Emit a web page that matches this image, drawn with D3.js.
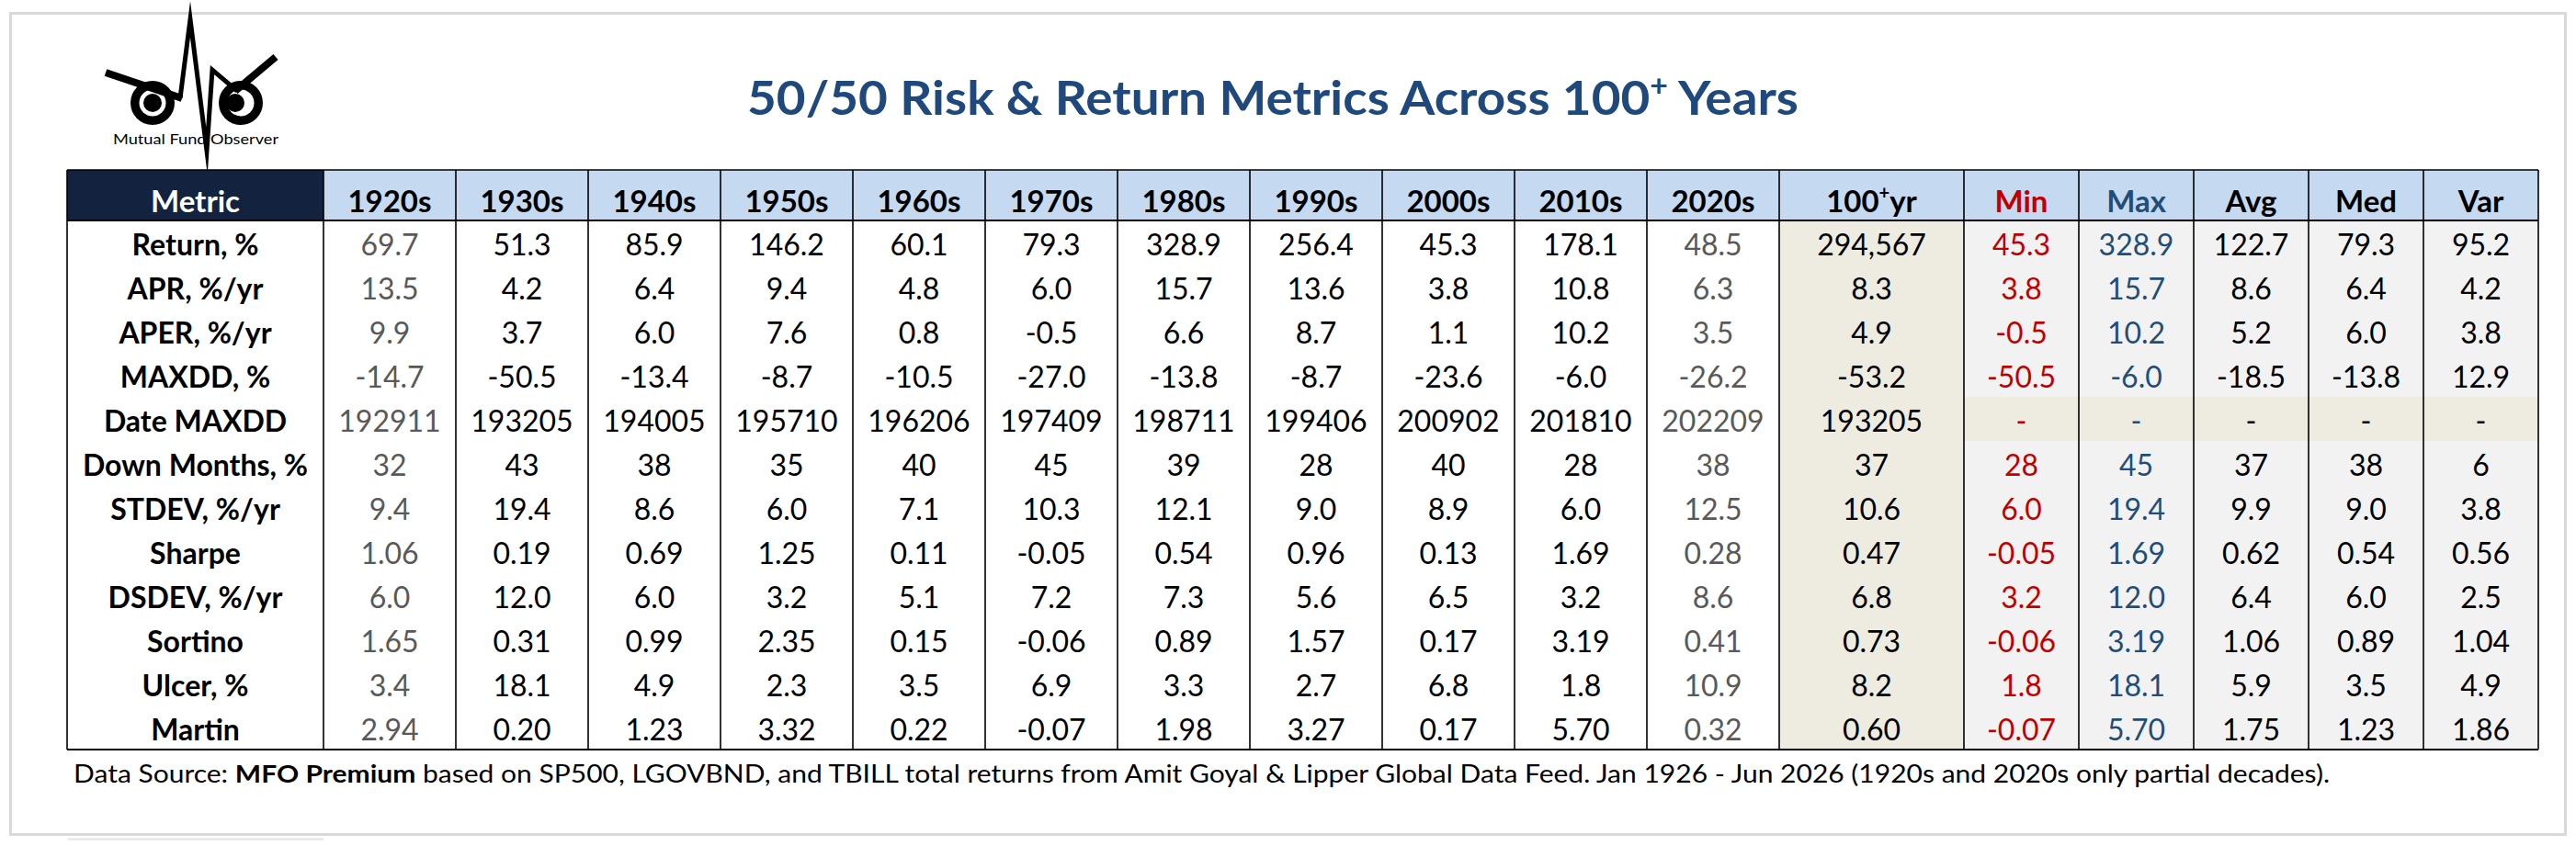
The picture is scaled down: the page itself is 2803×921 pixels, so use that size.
<!DOCTYPE html>
<html><head><meta charset="utf-8">
<script src="https://cdn.jsdelivr.net/npm/d3@7"></script>
<style>
html,body{margin:0;padding:0;background:#fff;}
svg{display:block;font-family:Lato,'Open Sans',sans-serif;}
</style>
</head><body>
<svg id="chart" width="2803" height="921"></svg>
<script>
// ---------- DATA ----------
const title = "50/50 Risk & Return Metrics Across 100";
const titleSup = "+";
const titleEnd = " Years";
const decades = ["1920s","1930s","1940s","1950s","1960s","1970s","1980s","1990s","2000s","2010s","2020s"];
const fullPeriod = "100";          // rendered as 100⁺yr
const summaryCols = ["Min","Max","Avg","Med","Var"];
const metrics = ["Return, %","APR, %/yr","APER, %/yr","MAXDD, %","Date MAXDD","Down Months, %","STDEV, %/yr","Sharpe","DSDEV, %/yr","Sortino","Ulcer, %","Martin"];

// values: 11 decades, 100+yr, Min, Max, Avg, Med, Var
const returnPct   = ["69.7","51.3","85.9","146.2","60.1","79.3","328.9","256.4","45.3","178.1","48.5","294,567","45.3","328.9","122.7","79.3","95.2"];
const aprPct      = ["13.5","4.2","6.4","9.4","4.8","6.0","15.7","13.6","3.8","10.8","6.3","8.3","3.8","15.7","8.6","6.4","4.2"];
const aperPct     = ["9.9","3.7","6.0","7.6","0.8","-0.5","6.6","8.7","1.1","10.2","3.5","4.9","-0.5","10.2","5.2","6.0","3.8"];
const maxddPct    = ["-14.7","-50.5","-13.4","-8.7","-10.5","-27.0","-13.8","-8.7","-23.6","-6.0","-26.2","-53.2","-50.5","-6.0","-18.5","-13.8","12.9"];
const dateMaxdd   = ["192911","193205","194005","195710","196206","197409","198711","199406","200902","201810","202209","193205","-","-","-","-","-"];
const downMonths  = ["32","43","38","35","40","45","39","28","40","28","38","37","28","45","37","38","6"];
const stdevPct    = ["9.4","19.4","8.6","6.0","7.1","10.3","12.1","9.0","8.9","6.0","12.5","10.6","6.0","19.4","9.9","9.0","3.8"];
const sharpe      = ["1.06","0.19","0.69","1.25","0.11","-0.05","0.54","0.96","0.13","1.69","0.28","0.47","-0.05","1.69","0.62","0.54","0.56"];
const dsdevPct    = ["6.0","12.0","6.0","3.2","5.1","7.2","7.3","5.6","6.5","3.2","8.6","6.8","3.2","12.0","6.4","6.0","2.5"];
const sortino     = ["1.65","0.31","0.99","2.35","0.15","-0.06","0.89","1.57","0.17","3.19","0.41","0.73","-0.06","3.19","1.06","0.89","1.04"];
const ulcerPct    = ["3.4","18.1","4.9","2.3","3.5","6.9","3.3","2.7","6.8","1.8","10.9","8.2","1.8","18.1","5.9","3.5","4.9"];
const martin      = ["2.94","0.20","1.23","3.32","0.22","-0.07","1.98","3.27","0.17","5.70","0.32","0.60","-0.07","5.70","1.75","1.23","1.86"];

const footSource = "Data Source: ";
const footBold = "MFO Premium";
const footRest = " based on SP500, LGOVBND, and TBILL total returns from Amit Goyal & Lipper Global Data Feed. Jan 1926 - Jun 2026 (1920s and 2020s only partial decades).";

// ---------- LAYOUT ----------
const rowsData = [returnPct,aprPct,aperPct,maxddPct,dateMaxdd,downMonths,stdevPct,sharpe,dsdevPct,sortino,ulcerPct,martin]
  .map((v,i)=>({label:metrics[i], values:v}));

const svg = d3.select("#chart");
const C = {navy:"#13233f", hdr:"#c5d9f1", tan:"#eeece1", gray:"#f2f2f2", red:"#c00000", blue:"#1f4e79", dim:"#595959", title:"#1f497d"};

const X0 = 73, XM = 352, XD = 1936, XF = 2137, X1 = 2762;
const HY = 185, HH = 55;
const y = d3.scaleBand().domain(metrics).range([HY+HH, HY+HH+48*metrics.length]);
const xDec = d3.scaleBand().domain(decades).range([XM, XD]);
const xSum = d3.scaleBand().domain(summaryCols).range([XF, X1]);
const YB = y.range()[1];

// column descriptors
const cols = [
  ...decades.map((d,i)=>({key:d, idx:i, x:xDec(d), w:xDec.bandwidth(), type:"dec"})),
  {key:"full", idx:11, x:XD, w:XF-XD, type:"full"},
  ...summaryCols.map((d,i)=>({key:d, idx:12+i, x:xSum(d), w:xSum.bandwidth(), type:"sum"}))
];

// frame
svg.append("rect").attr("x",11.5).attr("y",14.5).attr("width",2780).attr("height",894)
  .attr("fill","#fff").attr("stroke","#d9d9d9").attr("stroke-width",3);
svg.append("line").attr("x1",74).attr("x2",352).attr("y1",913.5).attr("y2",913.5).attr("stroke","#e3e3e3").attr("stroke-width",2);

// logo
const logo = svg.append("g");
[[166,112],[262,112]].forEach(([cx,cy],i)=>{
  logo.append("circle").attr("cx",cx).attr("cy",cy).attr("r",24).attr("fill","#000");
  logo.append("circle").attr("cx",cx).attr("cy",cy).attr("r",14.5).attr("fill","#fff");
  logo.append("circle").attr("cx",cx-(i?6:0)).attr("cy",cy).attr("r",10).attr("fill","#000");
});
logo.append("path").attr("d","M115,79 L198,107").attr("stroke","#000").attr("stroke-width",8).attr("fill","none");
logo.append("path").attr("d","M256,99 L300,62").attr("stroke","#000").attr("stroke-width",8).attr("fill","none");
logo.append("path").attr("d","M196,107 L207,21 L225,164 L231,76 L258,99")
  .attr("stroke","#000").attr("stroke-width",5).attr("fill","none").attr("stroke-linejoin","miter").attr("stroke-miterlimit",20);
logo.append("text").attr("x",123).attr("y",157).attr("font-size",15).attr("fill","#000")
  .attr("textLength",180).attr("lengthAdjust","spacingAndGlyphs").text("Mutual Fund  Observer");

// title
const tt = svg.append("text").attr("x",813).attr("y",125).attr("font-size",52).attr("font-weight",700)
  .attr("fill",C.title).attr("textLength",1144).attr("lengthAdjust","spacingAndGlyphs");
tt.append("tspan").text(title);
tt.append("tspan").attr("font-size",32).attr("dy",-20).text(titleSup);
tt.append("tspan").attr("dy",20).text(titleEnd);

// header backgrounds
svg.append("rect").attr("x",X0).attr("y",HY).attr("width",XM-X0).attr("height",HH).attr("fill",C.navy);
svg.selectAll("rect.hdr").data(cols).join("rect").attr("class","hdr")
  .attr("x",d=>d.x).attr("y",HY).attr("width",d=>d.w).attr("height",HH).attr("fill",C.hdr);

// body backgrounds
svg.append("rect").attr("x",XD).attr("y",y.range()[0]).attr("width",XF-XD).attr("height",YB-y.range()[0]).attr("fill",C.tan);
svg.append("rect").attr("x",XF).attr("y",y.range()[0]).attr("width",X1-XF).attr("height",YB-y.range()[0]).attr("fill",C.gray);
svg.append("rect").attr("x",XF).attr("y",y("Date MAXDD")).attr("width",X1-XF).attr("height",y.bandwidth()).attr("fill",C.tan);

// header text
const hb = HY+46;
svg.append("text").attr("x",(X0+XM)/2).attr("y",hb).attr("text-anchor","middle").attr("font-size",33)
  .attr("font-weight",700).attr("fill","#fff").text("Metric");
const headColor = d=> d.key==="Min"?C.red : d.key==="Max"?C.blue : "#000";
cols.forEach(d=>{
  const t = svg.append("text").attr("x",d.x+d.w/2).attr("y",hb).attr("text-anchor","middle")
    .attr("font-size",33).attr("font-weight",700).attr("fill",headColor(d));
  if(d.type==="full"){
    t.append("tspan").text(fullPeriod);
    t.append("tspan").attr("font-size",20).attr("dy",-14).text("+");
    t.append("tspan").attr("dy",14).text("yr");
  } else t.text(d.key);
});

// body text
const valColor = c => (c.key==="1920s"||c.key==="2020s") ? C.dim : c.key==="Min" ? C.red : c.key==="Max" ? C.blue : "#000";
const rowG = svg.selectAll("g.row").data(rowsData).join("g").attr("class","row")
  .attr("transform",d=>`translate(0,${y(d.label)+38})`);
rowG.append("text").attr("x",(X0+XM)/2).attr("text-anchor","middle").attr("font-size",32).attr("font-weight",700)
  .attr("fill","#000").text(d=>d.label);
rowG.selectAll("text.v").data(d=>cols.map(c=>({c, v:d.values[c.idx]}))).join("text").attr("class","v")
  .attr("x",d=>d.c.x+d.c.w/2).attr("text-anchor","middle").attr("font-size",32)
  .attr("fill",d=>valColor(d.c)).text(d=>d.v);

// grid lines
const bounds = [X0, XM, ...cols.map(c=>c.x+c.w)];
svg.selectAll("line.v").data(bounds).join("line").attr("class","v")
  .attr("x1",d=>d).attr("x2",d=>d).attr("y1",HY).attr("y2",YB).attr("stroke","#000").attr("stroke-width",1.6);
svg.append("line").attr("x1",X0).attr("x2",X1).attr("y1",HY).attr("y2",HY).attr("stroke","#000").attr("stroke-width",1.6);
svg.append("line").attr("x1",X0).attr("x2",X1).attr("y1",HY+HH).attr("y2",HY+HH).attr("stroke","#000").attr("stroke-width",1.8);
svg.append("line").attr("x1",X0).attr("x2",X1).attr("y1",YB).attr("y2",YB).attr("stroke","#000").attr("stroke-width",2.2);

// footnote
const ft = svg.append("text").attr("x",80).attr("y",852).attr("font-size",26).attr("fill","#000")
  .attr("textLength",2455).attr("lengthAdjust","spacingAndGlyphs");
ft.append("tspan").text(footSource);
ft.append("tspan").attr("font-weight",700).text(footBold);
ft.append("tspan").text(footRest);
</script>
</body></html>
